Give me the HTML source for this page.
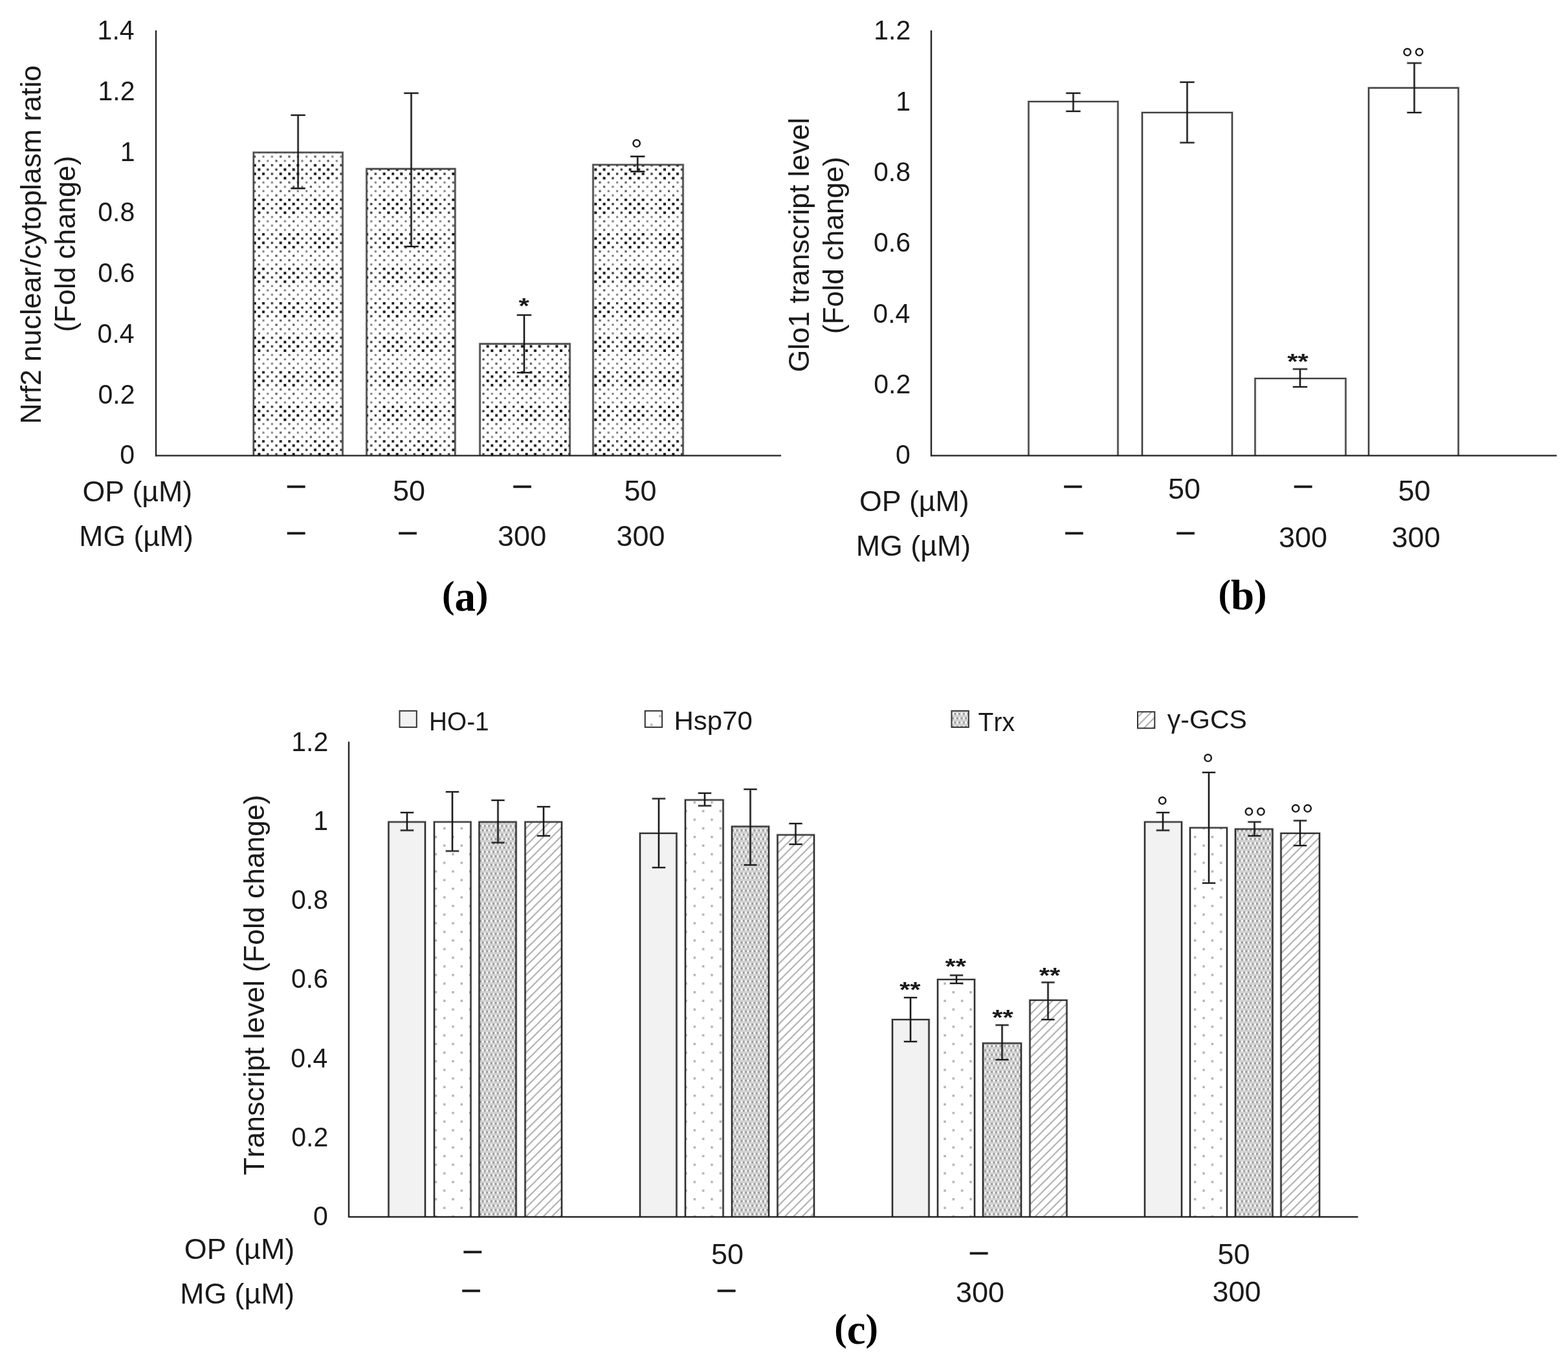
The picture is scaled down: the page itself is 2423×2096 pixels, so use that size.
<!DOCTYPE html>
<html><head><meta charset="utf-8"><title>Figure</title>
<style>
html,body{margin:0;padding:0;background:#fff;overflow:hidden;}
svg{display:block}
text{font-kerning:none;}
.s{font-family:"Liberation Sans",sans-serif;}
.d{font-family:"Liberation Sans",sans-serif;stroke:#1a1a1a;stroke-width:0.6px;}
.sb{font-family:"Liberation Sans",sans-serif;font-weight:bold;}
.b{font-family:"Liberation Serif",serif;font-weight:bold;}
</style></head><body>
<svg width="2423" height="2096" viewBox="0 0 2423 2096">
<defs>
<pattern id="pA" patternUnits="userSpaceOnUse" width="53.333" height="53.333" x="392" y="-12.933">
<rect width="53.333" height="53.333" fill="#fff"/>
<rect x="-0.25" y="-0.25" width="3.9" height="3.9" fill="#0c0c0c"/>
<rect x="13.08" y="-0.25" width="3.9" height="3.9" fill="#0c0c0c"/>
<rect x="26.67" y="0.00" width="3.4" height="3.4" fill="#3c3c3c"/>
<rect x="39.75" y="-0.25" width="3.9" height="3.9" fill="#0c0c0c"/>
<rect x="6.42" y="6.42" width="3.9" height="3.9" fill="#0c0c0c"/>
<rect x="20.00" y="6.67" width="3.4" height="3.4" fill="#3c3c3c"/>
<rect x="33.33" y="6.67" width="3.4" height="3.4" fill="#3c3c3c"/>
<rect x="46.42" y="6.42" width="3.9" height="3.9" fill="#0c0c0c"/>
<rect x="-0.25" y="13.08" width="3.9" height="3.9" fill="#0c0c0c"/>
<rect x="13.08" y="13.08" width="3.9" height="3.9" fill="#0c0c0c"/>
<rect x="26.67" y="13.33" width="3.4" height="3.4" fill="#3c3c3c"/>
<rect x="39.75" y="13.08" width="3.9" height="3.9" fill="#0c0c0c"/>
<rect x="6.42" y="19.75" width="3.9" height="3.9" fill="#0c0c0c"/>
<rect x="20.00" y="20.00" width="3.4" height="3.4" fill="#3c3c3c"/>
<rect x="33.33" y="20.00" width="3.4" height="3.4" fill="#3c3c3c"/>
<rect x="46.42" y="19.75" width="3.9" height="3.9" fill="#0c0c0c"/>
<rect x="0.10" y="26.77" width="3.2" height="3.2" fill="#555"/>
<rect x="13.53" y="26.87" width="3.0" height="3.0" fill="#777"/>
<rect x="26.87" y="26.87" width="3.0" height="3.0" fill="#777"/>
<rect x="40.10" y="26.77" width="3.2" height="3.2" fill="#555"/>
<rect x="6.77" y="33.43" width="3.2" height="3.2" fill="#555"/>
<rect x="20.20" y="33.53" width="3.0" height="3.0" fill="#777"/>
<rect x="33.43" y="33.43" width="3.2" height="3.2" fill="#555"/>
<rect x="46.87" y="33.53" width="3.0" height="3.0" fill="#777"/>
<rect x="0.10" y="40.10" width="3.2" height="3.2" fill="#555"/>
<rect x="13.53" y="40.20" width="3.0" height="3.0" fill="#777"/>
<rect x="26.87" y="40.20" width="3.0" height="3.0" fill="#777"/>
<rect x="40.10" y="40.10" width="3.2" height="3.2" fill="#555"/>
<rect x="6.77" y="46.77" width="3.2" height="3.2" fill="#555"/>
<rect x="20.20" y="46.87" width="3.0" height="3.0" fill="#777"/>
<rect x="33.43" y="46.77" width="3.2" height="3.2" fill="#555"/>
<rect x="46.87" y="46.87" width="3.0" height="3.0" fill="#777"/>
</pattern>
<pattern id="pH" patternUnits="userSpaceOnUse" width="26.667" height="26.667" x="5" y="12">
<rect width="26.667" height="26.667" fill="#fff"/>
<rect x="0" y="0" width="3.4" height="3.4" fill="#b0b0b0"/>
<rect x="13.333" y="13.333" width="3.4" height="3.4" fill="#b0b0b0"/>
</pattern>
<pattern id="pT" patternUnits="userSpaceOnUse" width="6.667" height="13.333" x="1" y="2">
<rect width="6.667" height="13.333" fill="#d2d2d2"/>
<rect x="0" y="0" width="3.2" height="3.2" fill="#fcfcfc"/>
<rect x="3.333" y="0" width="3.2" height="3.2" fill="#9a9a9a"/>
<rect x="0" y="6.667" width="3.2" height="3.2" fill="#9a9a9a"/>
<rect x="3.333" y="6.667" width="3.2" height="3.2" fill="#fcfcfc"/>
</pattern>
<pattern id="pG" patternUnits="userSpaceOnUse" width="13.333" height="13.333">
<rect width="13.333" height="13.333" fill="#fff"/>
<path d="M-3.333 3.333L3.333 -3.333M0 13.333L13.333 0M10 16.667L16.667 10" stroke="#ababab" stroke-width="2"/>
</pattern>
</defs>
<rect width="2423" height="2096" fill="#fff"/>

<g id="chartA">
<rect x="391.8" y="235.7" width="137.70" height="468.60" fill="url(#pA)"/>
<path d="M391.8 704.3V235.7H529.5V704.3" fill="none" stroke="#000" stroke-opacity="0.18" stroke-width="4.1" stroke-linejoin="miter"/>
<path d="M391.8 704.3V235.7H529.5V704.3" fill="none" stroke="#484848" stroke-width="2.3" stroke-linejoin="miter"/>
<rect x="566.5" y="261" width="136.80" height="443.30" fill="url(#pA)"/>
<path d="M566.5 704.3V261H703.3V704.3" fill="none" stroke="#000" stroke-opacity="0.18" stroke-width="4.1" stroke-linejoin="miter"/>
<path d="M566.5 704.3V261H703.3V704.3" fill="none" stroke="#484848" stroke-width="2.3" stroke-linejoin="miter"/>
<rect x="741.6" y="531.5" width="139.00" height="172.80" fill="url(#pA)"/>
<path d="M741.6 704.3V531.5H880.6V704.3" fill="none" stroke="#000" stroke-opacity="0.18" stroke-width="4.1" stroke-linejoin="miter"/>
<path d="M741.6 704.3V531.5H880.6V704.3" fill="none" stroke="#484848" stroke-width="2.3" stroke-linejoin="miter"/>
<rect x="916.5" y="254.7" width="139.00" height="449.60" fill="url(#pA)"/>
<path d="M916.5 704.3V254.7H1055.5V704.3" fill="none" stroke="#000" stroke-opacity="0.18" stroke-width="4.1" stroke-linejoin="miter"/>
<path d="M916.5 704.3V254.7H1055.5V704.3" fill="none" stroke="#484848" stroke-width="2.3" stroke-linejoin="miter"/>
<path d="M448.8 178H472.40000000000003M448.8 291.2H472.40000000000003M460.6 178V291.2" stroke="#000" stroke-opacity="0.2" stroke-width="4.0" fill="none"/>
<path d="M449.6 178H471.6M449.6 291.2H471.6M460.6 178V291.2" stroke="#1a1a1a" stroke-width="2.2" fill="none"/>
<path d="M623.7 144H647.3M623.7 381H647.3M635.5 144V381" stroke="#000" stroke-opacity="0.2" stroke-width="4.0" fill="none"/>
<path d="M624.5 144H646.5M624.5 381H646.5M635.5 144V381" stroke="#1a1a1a" stroke-width="2.2" fill="none"/>
<path d="M798.2 487H821.8M798.2 576H821.8M810 487V576" stroke="#000" stroke-opacity="0.2" stroke-width="4.0" fill="none"/>
<path d="M799.0 487H821.0M799.0 576H821.0M810 487V576" stroke="#1a1a1a" stroke-width="2.2" fill="none"/>
<path d="M973.5 241.8H997.0999999999999M973.5 265.2H997.0999999999999M985.3 241.8V265.2" stroke="#000" stroke-opacity="0.2" stroke-width="4.0" fill="none"/>
<path d="M974.3 241.8H996.3M974.3 265.2H996.3M985.3 241.8V265.2" stroke="#1a1a1a" stroke-width="2.2" fill="none"/>
<line x1="241" y1="47" x2="241" y2="705.3" stroke="#000" stroke-opacity="0.2" stroke-width="3.8"/>
<line x1="241" y1="47" x2="241" y2="705.3" stroke="#262626" stroke-width="2"/>
<line x1="240" y1="704.3" x2="1207" y2="704.3" stroke="#000" stroke-opacity="0.2" stroke-width="3.8"/>
<line x1="240" y1="704.3" x2="1207" y2="704.3" stroke="#262626" stroke-width="2"/>
<text class="s" font-size="43" fill="#1a1a1a" transform="translate(185.27,717.30) scale(0.9550,1)">0</text>
<text class="s" font-size="43" fill="#1a1a1a" transform="translate(151.48,623.57) scale(0.9550,1)">0.2</text>
<text class="s" font-size="43" fill="#1a1a1a" transform="translate(150.62,529.84) scale(0.9550,1)">0.4</text>
<text class="s" font-size="43" fill="#1a1a1a" transform="translate(151.22,436.11) scale(0.9550,1)">0.6</text>
<text class="s" font-size="43" fill="#1a1a1a" transform="translate(151.20,342.39) scale(0.9550,1)">0.8</text>
<text class="s" font-size="43" fill="#1a1a1a" transform="translate(185.67,248.66) scale(0.9550,1)">1</text>
<text class="s" font-size="43" fill="#1a1a1a" transform="translate(151.48,154.93) scale(0.9550,1)">1.2</text>
<text class="s" font-size="43" fill="#1a1a1a" transform="translate(150.62,61.20) scale(0.9550,1)">1.4</text>
<text class="s" font-size="44" fill="#1a1a1a" transform="translate(63.00,655.46) rotate(-90) scale(1.0129,1)">Nrf2 nuclear/cytoplasm ratio</text>
<text class="s" font-size="44" fill="#1a1a1a" transform="translate(115.80,513.34) rotate(-90) scale(1.0037,1)">(Fold change)</text>
<text class="s" font-size="44" fill="#1a1a1a" transform="translate(127.38,775.00) scale(1.0167,1)">OP (µM)</text>
<text class="s" font-size="44" fill="#1a1a1a" transform="translate(122.35,843.75) scale(1.0115,1)">MG (µM)</text>
<text class="d" font-size="49" fill="#1a1a1a" transform="translate(443.89,764.50) scale(1.0000,1)">–</text>
<text class="d" font-size="49" fill="#1a1a1a" transform="translate(793.39,764.50) scale(1.0000,1)">–</text>
<text class="d" font-size="49" fill="#1a1a1a" transform="translate(616.39,837.00) scale(1.0000,1)">–</text>
<text class="d" font-size="49" fill="#1a1a1a" transform="translate(443.89,837.00) scale(1.0000,1)">–</text>
<text class="s" font-size="45" fill="#1a1a1a" transform="translate(606.95,773.75) scale(1.0000,1)">50</text>
<text class="s" font-size="45" fill="#1a1a1a" transform="translate(964.55,773.75) scale(1.0000,1)">50</text>
<text class="s" font-size="45" fill="#1a1a1a" transform="translate(769.08,844.25) scale(1.0000,1)">300</text>
<text class="s" font-size="45" fill="#1a1a1a" transform="translate(952.48,844.25) scale(1.0000,1)">300</text>
<text class="sb" font-size="38" fill="#1a1a1a" transform="translate(801.43,483.79) scale(1.1000,0.8800)">*</text>
<text class="s" font-size="46" fill="#1a1a1a" transform="translate(974.61,247.92) scale(1.0000,1.0000)">°</text>
</g>
<g id="chartB">
<rect x="1589.5" y="157" width="138.00" height="547.30" fill="#fff"/>
<path d="M1589.5 704.3V157H1727.5V704.3" fill="none" stroke="#000" stroke-opacity="0.18" stroke-width="4.0" stroke-linejoin="miter"/>
<path d="M1589.5 704.3V157H1727.5V704.3" fill="none" stroke="#404040" stroke-width="2.2" stroke-linejoin="miter"/>
<rect x="1765" y="174" width="139.00" height="530.30" fill="#fff"/>
<path d="M1765 704.3V174H1904V704.3" fill="none" stroke="#000" stroke-opacity="0.18" stroke-width="4.0" stroke-linejoin="miter"/>
<path d="M1765 704.3V174H1904V704.3" fill="none" stroke="#404040" stroke-width="2.2" stroke-linejoin="miter"/>
<rect x="1939.5" y="585" width="140.00" height="119.30" fill="#fff"/>
<path d="M1939.5 704.3V585H2079.5V704.3" fill="none" stroke="#000" stroke-opacity="0.18" stroke-width="4.0" stroke-linejoin="miter"/>
<path d="M1939.5 704.3V585H2079.5V704.3" fill="none" stroke="#404040" stroke-width="2.2" stroke-linejoin="miter"/>
<rect x="2115" y="135.8" width="138.60" height="568.50" fill="#fff"/>
<path d="M2115 704.3V135.8H2253.6V704.3" fill="none" stroke="#000" stroke-opacity="0.18" stroke-width="4.0" stroke-linejoin="miter"/>
<path d="M2115 704.3V135.8H2253.6V704.3" fill="none" stroke="#404040" stroke-width="2.2" stroke-linejoin="miter"/>
<path d="M1646.7 144H1670.3M1646.7 172H1670.3M1658.5 144V172" stroke="#000" stroke-opacity="0.2" stroke-width="4.0" fill="none"/>
<path d="M1647.5 144H1669.5M1647.5 172H1669.5M1658.5 144V172" stroke="#1a1a1a" stroke-width="2.2" fill="none"/>
<path d="M1822.7 127H1846.3M1822.7 220.5H1846.3M1834.5 127V220.5" stroke="#000" stroke-opacity="0.2" stroke-width="4.0" fill="none"/>
<path d="M1823.5 127H1845.5M1823.5 220.5H1845.5M1834.5 127V220.5" stroke="#1a1a1a" stroke-width="2.2" fill="none"/>
<path d="M1997.2 570.5H2020.8M1997.2 598H2020.8M2009 570.5V598" stroke="#000" stroke-opacity="0.2" stroke-width="4.0" fill="none"/>
<path d="M1998.0 570.5H2020.0M1998.0 598H2020.0M2009 570.5V598" stroke="#1a1a1a" stroke-width="2.2" fill="none"/>
<path d="M2173.7 97.5H2197.3M2173.7 174H2197.3M2185.5 97.5V174" stroke="#000" stroke-opacity="0.2" stroke-width="4.0" fill="none"/>
<path d="M2174.5 97.5H2196.5M2174.5 174H2196.5M2185.5 97.5V174" stroke="#1a1a1a" stroke-width="2.2" fill="none"/>
<line x1="1439" y1="47" x2="1439" y2="705.3" stroke="#000" stroke-opacity="0.2" stroke-width="3.8"/>
<line x1="1439" y1="47" x2="1439" y2="705.3" stroke="#262626" stroke-width="2"/>
<line x1="1438" y1="704.3" x2="2405.5" y2="704.3" stroke="#000" stroke-opacity="0.2" stroke-width="3.8"/>
<line x1="1438" y1="704.3" x2="2405.5" y2="704.3" stroke="#262626" stroke-width="2"/>
<text class="s" font-size="43" fill="#1a1a1a" transform="translate(1383.97,717.30) scale(0.9550,1)">0</text>
<text class="s" font-size="43" fill="#1a1a1a" transform="translate(1350.18,607.95) scale(0.9550,1)">0.2</text>
<text class="s" font-size="43" fill="#1a1a1a" transform="translate(1349.32,498.60) scale(0.9550,1)">0.4</text>
<text class="s" font-size="43" fill="#1a1a1a" transform="translate(1349.92,389.25) scale(0.9550,1)">0.6</text>
<text class="s" font-size="43" fill="#1a1a1a" transform="translate(1349.90,279.90) scale(0.9550,1)">0.8</text>
<text class="s" font-size="43" fill="#1a1a1a" transform="translate(1384.37,170.55) scale(0.9550,1)">1</text>
<text class="s" font-size="43" fill="#1a1a1a" transform="translate(1350.18,61.20) scale(0.9550,1)">1.2</text>
<text class="s" font-size="44" fill="#1a1a1a" transform="translate(1250.20,575.34) rotate(-90) scale(1.0123,1)">Glo1 transcript level</text>
<text class="s" font-size="44" fill="#1a1a1a" transform="translate(1303.10,516.36) rotate(-90) scale(1.0101,1)">(Fold change)</text>
<text class="s" font-size="44" fill="#1a1a1a" transform="translate(1327.88,790.00) scale(1.0167,1)">OP (µM)</text>
<text class="s" font-size="44" fill="#1a1a1a" transform="translate(1322.83,858.75) scale(1.0174,1)">MG (µM)</text>
<text class="d" font-size="49" fill="#1a1a1a" transform="translate(1644.39,764.50) scale(1.0000,1)">–</text>
<text class="d" font-size="49" fill="#1a1a1a" transform="translate(1999.89,764.50) scale(1.0000,1)">–</text>
<text class="d" font-size="49" fill="#1a1a1a" transform="translate(1646.14,837.00) scale(1.0000,1)">–</text>
<text class="d" font-size="49" fill="#1a1a1a" transform="translate(1818.39,837.00) scale(1.0000,1)">–</text>
<text class="s" font-size="45" fill="#1a1a1a" transform="translate(1804.95,771.00) scale(1.0000,1)">50</text>
<text class="s" font-size="45" fill="#1a1a1a" transform="translate(2160.45,774.00) scale(1.0000,1)">50</text>
<text class="s" font-size="45" fill="#1a1a1a" transform="translate(1975.88,846.25) scale(1.0000,1)">300</text>
<text class="s" font-size="45" fill="#1a1a1a" transform="translate(2150.58,846.25) scale(1.0000,1)">300</text>
<text class="sb" font-size="38" fill="#1a1a1a" transform="translate(1989.29,569.59) scale(1.1000,0.8800)">**</text>
<text class="s" font-size="46" fill="#1a1a1a" transform="translate(2165.52,106.92) scale(1.0000,1.0000)">°°</text>
</g>
<g id="chartC">
<rect x="600.5" y="1270.5" width="56.50" height="610.50" fill="#f2f2f2"/>
<path d="M600.5 1881V1270.5H657V1881" fill="none" stroke="#000" stroke-opacity="0.18" stroke-width="4.0" stroke-linejoin="miter"/>
<path d="M600.5 1881V1270.5H657V1881" fill="none" stroke="#2e2e2e" stroke-width="2.2" stroke-linejoin="miter"/>
<rect x="671" y="1270.5" width="56.50" height="610.50" fill="url(#pH)"/>
<path d="M671 1881V1270.5H727.5V1881" fill="none" stroke="#000" stroke-opacity="0.18" stroke-width="4.0" stroke-linejoin="miter"/>
<path d="M671 1881V1270.5H727.5V1881" fill="none" stroke="#2e2e2e" stroke-width="2.2" stroke-linejoin="miter"/>
<rect x="740.5" y="1270.5" width="57.00" height="610.50" fill="url(#pT)"/>
<path d="M740.5 1881V1270.5H797.5V1881" fill="none" stroke="#000" stroke-opacity="0.18" stroke-width="4.0" stroke-linejoin="miter"/>
<path d="M740.5 1881V1270.5H797.5V1881" fill="none" stroke="#2e2e2e" stroke-width="2.2" stroke-linejoin="miter"/>
<rect x="811.5" y="1270.5" width="56.50" height="610.50" fill="url(#pG)"/>
<path d="M811.5 1881V1270.5H868V1881" fill="none" stroke="#000" stroke-opacity="0.18" stroke-width="4.0" stroke-linejoin="miter"/>
<path d="M811.5 1881V1270.5H868V1881" fill="none" stroke="#2e2e2e" stroke-width="2.2" stroke-linejoin="miter"/>
<rect x="989" y="1288" width="56.50" height="593.00" fill="#f2f2f2"/>
<path d="M989 1881V1288H1045.5V1881" fill="none" stroke="#000" stroke-opacity="0.18" stroke-width="4.0" stroke-linejoin="miter"/>
<path d="M989 1881V1288H1045.5V1881" fill="none" stroke="#2e2e2e" stroke-width="2.2" stroke-linejoin="miter"/>
<rect x="1059" y="1236.5" width="58.50" height="644.50" fill="url(#pH)"/>
<path d="M1059 1881V1236.5H1117.5V1881" fill="none" stroke="#000" stroke-opacity="0.18" stroke-width="4.0" stroke-linejoin="miter"/>
<path d="M1059 1881V1236.5H1117.5V1881" fill="none" stroke="#2e2e2e" stroke-width="2.2" stroke-linejoin="miter"/>
<rect x="1131" y="1277.5" width="57.00" height="603.50" fill="url(#pT)"/>
<path d="M1131 1881V1277.5H1188V1881" fill="none" stroke="#000" stroke-opacity="0.18" stroke-width="4.0" stroke-linejoin="miter"/>
<path d="M1131 1881V1277.5H1188V1881" fill="none" stroke="#2e2e2e" stroke-width="2.2" stroke-linejoin="miter"/>
<rect x="1201.5" y="1290.5" width="56.50" height="590.50" fill="url(#pG)"/>
<path d="M1201.5 1881V1290.5H1258V1881" fill="none" stroke="#000" stroke-opacity="0.18" stroke-width="4.0" stroke-linejoin="miter"/>
<path d="M1201.5 1881V1290.5H1258V1881" fill="none" stroke="#2e2e2e" stroke-width="2.2" stroke-linejoin="miter"/>
<rect x="1379" y="1576" width="56.50" height="305.00" fill="#f2f2f2"/>
<path d="M1379 1881V1576H1435.5V1881" fill="none" stroke="#000" stroke-opacity="0.18" stroke-width="4.0" stroke-linejoin="miter"/>
<path d="M1379 1881V1576H1435.5V1881" fill="none" stroke="#2e2e2e" stroke-width="2.2" stroke-linejoin="miter"/>
<rect x="1449" y="1514" width="57.00" height="367.00" fill="url(#pH)"/>
<path d="M1449 1881V1514H1506V1881" fill="none" stroke="#000" stroke-opacity="0.18" stroke-width="4.0" stroke-linejoin="miter"/>
<path d="M1449 1881V1514H1506V1881" fill="none" stroke="#2e2e2e" stroke-width="2.2" stroke-linejoin="miter"/>
<rect x="1519" y="1612.5" width="59.00" height="268.50" fill="url(#pT)"/>
<path d="M1519 1881V1612.5H1578V1881" fill="none" stroke="#000" stroke-opacity="0.18" stroke-width="4.0" stroke-linejoin="miter"/>
<path d="M1519 1881V1612.5H1578V1881" fill="none" stroke="#2e2e2e" stroke-width="2.2" stroke-linejoin="miter"/>
<rect x="1591.5" y="1546" width="57.00" height="335.00" fill="url(#pG)"/>
<path d="M1591.5 1881V1546H1648.5V1881" fill="none" stroke="#000" stroke-opacity="0.18" stroke-width="4.0" stroke-linejoin="miter"/>
<path d="M1591.5 1881V1546H1648.5V1881" fill="none" stroke="#2e2e2e" stroke-width="2.2" stroke-linejoin="miter"/>
<rect x="1769" y="1270.5" width="57.00" height="610.50" fill="#f2f2f2"/>
<path d="M1769 1881V1270.5H1826V1881" fill="none" stroke="#000" stroke-opacity="0.18" stroke-width="4.0" stroke-linejoin="miter"/>
<path d="M1769 1881V1270.5H1826V1881" fill="none" stroke="#2e2e2e" stroke-width="2.2" stroke-linejoin="miter"/>
<rect x="1839" y="1279.5" width="57.00" height="601.50" fill="url(#pH)"/>
<path d="M1839 1881V1279.5H1896V1881" fill="none" stroke="#000" stroke-opacity="0.18" stroke-width="4.0" stroke-linejoin="miter"/>
<path d="M1839 1881V1279.5H1896V1881" fill="none" stroke="#2e2e2e" stroke-width="2.2" stroke-linejoin="miter"/>
<rect x="1909" y="1281.5" width="57.50" height="599.50" fill="url(#pT)"/>
<path d="M1909 1881V1281.5H1966.5V1881" fill="none" stroke="#000" stroke-opacity="0.18" stroke-width="4.0" stroke-linejoin="miter"/>
<path d="M1909 1881V1281.5H1966.5V1881" fill="none" stroke="#2e2e2e" stroke-width="2.2" stroke-linejoin="miter"/>
<rect x="1979.5" y="1288" width="59.50" height="593.00" fill="url(#pG)"/>
<path d="M1979.5 1881V1288H2039V1881" fill="none" stroke="#000" stroke-opacity="0.18" stroke-width="4.0" stroke-linejoin="miter"/>
<path d="M1979.5 1881V1288H2039V1881" fill="none" stroke="#2e2e2e" stroke-width="2.2" stroke-linejoin="miter"/>
<path d="M618.2 1256H639.8M618.2 1283.5H639.8M629 1256V1283.5" stroke="#000" stroke-opacity="0.2" stroke-width="4.0" fill="none"/>
<path d="M619.0 1256H639.0M619.0 1283.5H639.0M629 1256V1283.5" stroke="#1a1a1a" stroke-width="2.2" fill="none"/>
<path d="M688.2 1224H709.8M688.2 1315.5H709.8M699 1224V1315.5" stroke="#000" stroke-opacity="0.2" stroke-width="4.0" fill="none"/>
<path d="M689.0 1224H709.0M689.0 1315.5H709.0M699 1224V1315.5" stroke="#1a1a1a" stroke-width="2.2" fill="none"/>
<path d="M758.7 1237H780.3M758.7 1302.5H780.3M769.5 1237V1302.5" stroke="#000" stroke-opacity="0.2" stroke-width="4.0" fill="none"/>
<path d="M759.5 1237H779.5M759.5 1302.5H779.5M769.5 1237V1302.5" stroke="#1a1a1a" stroke-width="2.2" fill="none"/>
<path d="M829.2 1247H850.8M829.2 1292H850.8M840 1247V1292" stroke="#000" stroke-opacity="0.2" stroke-width="4.0" fill="none"/>
<path d="M830.0 1247H850.0M830.0 1292H850.0M840 1247V1292" stroke="#1a1a1a" stroke-width="2.2" fill="none"/>
<path d="M1007.2 1234.5H1028.8M1007.2 1341H1028.8M1018 1234.5V1341" stroke="#000" stroke-opacity="0.2" stroke-width="4.0" fill="none"/>
<path d="M1008.0 1234.5H1028.0M1008.0 1341H1028.0M1018 1234.5V1341" stroke="#1a1a1a" stroke-width="2.2" fill="none"/>
<path d="M1078.2 1226H1099.8M1078.2 1245.5H1099.8M1089 1226V1245.5" stroke="#000" stroke-opacity="0.2" stroke-width="4.0" fill="none"/>
<path d="M1079.0 1226H1099.0M1079.0 1245.5H1099.0M1089 1226V1245.5" stroke="#1a1a1a" stroke-width="2.2" fill="none"/>
<path d="M1148.7 1220H1170.3M1148.7 1337H1170.3M1159.5 1220V1337" stroke="#000" stroke-opacity="0.2" stroke-width="4.0" fill="none"/>
<path d="M1149.5 1220H1169.5M1149.5 1337H1169.5M1159.5 1220V1337" stroke="#1a1a1a" stroke-width="2.2" fill="none"/>
<path d="M1218.7 1273H1240.3M1218.7 1305H1240.3M1229.5 1273V1305" stroke="#000" stroke-opacity="0.2" stroke-width="4.0" fill="none"/>
<path d="M1219.5 1273H1239.5M1219.5 1305H1239.5M1229.5 1273V1305" stroke="#1a1a1a" stroke-width="2.2" fill="none"/>
<path d="M1396.2 1542H1417.8M1396.2 1610H1417.8M1407 1542V1610" stroke="#000" stroke-opacity="0.2" stroke-width="4.0" fill="none"/>
<path d="M1397.0 1542H1417.0M1397.0 1610H1417.0M1407 1542V1610" stroke="#1a1a1a" stroke-width="2.2" fill="none"/>
<path d="M1467.2 1507.5H1488.8M1467.2 1520H1488.8M1478 1507.5V1520" stroke="#000" stroke-opacity="0.2" stroke-width="4.0" fill="none"/>
<path d="M1468.0 1507.5H1488.0M1468.0 1520H1488.0M1478 1507.5V1520" stroke="#1a1a1a" stroke-width="2.2" fill="none"/>
<path d="M1537.7 1584.5H1559.3M1537.7 1638H1559.3M1548.5 1584.5V1638" stroke="#000" stroke-opacity="0.2" stroke-width="4.0" fill="none"/>
<path d="M1538.5 1584.5H1558.5M1538.5 1638H1558.5M1548.5 1584.5V1638" stroke="#1a1a1a" stroke-width="2.2" fill="none"/>
<path d="M1608.7 1518.5H1630.3M1608.7 1576H1630.3M1619.5 1518.5V1576" stroke="#000" stroke-opacity="0.2" stroke-width="4.0" fill="none"/>
<path d="M1609.5 1518.5H1629.5M1609.5 1576H1629.5M1619.5 1518.5V1576" stroke="#1a1a1a" stroke-width="2.2" fill="none"/>
<path d="M1786.2 1256H1807.8M1786.2 1283.5H1807.8M1797 1256V1283.5" stroke="#000" stroke-opacity="0.2" stroke-width="4.0" fill="none"/>
<path d="M1787.0 1256H1807.0M1787.0 1283.5H1807.0M1797 1256V1283.5" stroke="#1a1a1a" stroke-width="2.2" fill="none"/>
<path d="M1857.2 1194H1878.8M1857.2 1365H1878.8M1868 1194V1365" stroke="#000" stroke-opacity="0.2" stroke-width="4.0" fill="none"/>
<path d="M1858.0 1194H1878.0M1858.0 1365H1878.0M1868 1194V1365" stroke="#1a1a1a" stroke-width="2.2" fill="none"/>
<path d="M1927.7 1270.5H1949.3M1927.7 1292H1949.3M1938.5 1270.5V1292" stroke="#000" stroke-opacity="0.2" stroke-width="4.0" fill="none"/>
<path d="M1928.5 1270.5H1948.5M1928.5 1292H1948.5M1938.5 1270.5V1292" stroke="#1a1a1a" stroke-width="2.2" fill="none"/>
<path d="M1998.2 1268.5H2019.8M1998.2 1307H2019.8M2009 1268.5V1307" stroke="#000" stroke-opacity="0.2" stroke-width="4.0" fill="none"/>
<path d="M1999.0 1268.5H2019.0M1999.0 1307H2019.0M2009 1268.5V1307" stroke="#1a1a1a" stroke-width="2.2" fill="none"/>
<line x1="539" y1="1146.5" x2="539" y2="1882" stroke="#000" stroke-opacity="0.2" stroke-width="3.8"/>
<line x1="539" y1="1146.5" x2="539" y2="1882" stroke="#262626" stroke-width="2"/>
<line x1="538" y1="1881" x2="2098.5" y2="1881" stroke="#000" stroke-opacity="0.2" stroke-width="3.8"/>
<line x1="538" y1="1881" x2="2098.5" y2="1881" stroke="#262626" stroke-width="2"/>
<text class="s" font-size="43" fill="#1a1a1a" transform="translate(483.97,1894.00) scale(0.9550,1)">0</text>
<text class="s" font-size="43" fill="#1a1a1a" transform="translate(450.18,1771.75) scale(0.9550,1)">0.2</text>
<text class="s" font-size="43" fill="#1a1a1a" transform="translate(449.32,1649.50) scale(0.9550,1)">0.4</text>
<text class="s" font-size="43" fill="#1a1a1a" transform="translate(449.92,1527.25) scale(0.9550,1)">0.6</text>
<text class="s" font-size="43" fill="#1a1a1a" transform="translate(449.90,1405.00) scale(0.9550,1)">0.8</text>
<text class="s" font-size="43" fill="#1a1a1a" transform="translate(484.37,1282.75) scale(0.9550,1)">1</text>
<text class="s" font-size="43" fill="#1a1a1a" transform="translate(450.18,1160.50) scale(0.9550,1)">1.2</text>
<text class="s" font-size="44" fill="#1a1a1a" transform="translate(407.90,1816.40) rotate(-90) scale(1.0106,1)">Transcript level (Fold change)</text>
<text class="s" font-size="44" fill="#1a1a1a" transform="translate(284.87,1945.75) scale(1.0198,1)">OP (µM)</text>
<text class="s" font-size="44" fill="#1a1a1a" transform="translate(278.34,2014.50) scale(1.0144,1)">MG (µM)</text>
<text class="d" font-size="49" fill="#1a1a1a" transform="translate(716.64,1948.00) scale(1.0000,1)">–</text>
<text class="d" font-size="49" fill="#1a1a1a" transform="translate(1498.89,1950.00) scale(1.0000,1)">–</text>
<text class="d" font-size="49" fill="#1a1a1a" transform="translate(714.39,2008.00) scale(1.0000,1)">–</text>
<text class="d" font-size="49" fill="#1a1a1a" transform="translate(1108.89,2008.00) scale(1.0000,1)">–</text>
<text class="s" font-size="45" fill="#1a1a1a" transform="translate(1098.95,1954.00) scale(1.0000,1)">50</text>
<text class="s" font-size="45" fill="#1a1a1a" transform="translate(1881.45,1954.00) scale(1.0000,1)">50</text>
<text class="s" font-size="45" fill="#1a1a1a" transform="translate(1476.98,2013.00) scale(1.0000,1)">300</text>
<text class="s" font-size="45" fill="#1a1a1a" transform="translate(1873.48,2011.50) scale(1.0000,1)">300</text>
<text class="sb" font-size="38" fill="#1a1a1a" transform="translate(1389.89,1540.89) scale(1.1000,0.8800)">**</text>
<text class="sb" font-size="38" fill="#1a1a1a" transform="translate(1460.39,1505.09) scale(1.1000,0.8800)">**</text>
<text class="sb" font-size="38" fill="#1a1a1a" transform="translate(1533.19,1583.69) scale(1.1000,0.8800)">**</text>
<text class="sb" font-size="38" fill="#1a1a1a" transform="translate(1605.69,1519.49) scale(1.1000,0.8800)">**</text>
<text class="s" font-size="46" fill="#1a1a1a" transform="translate(1787.01,1263.92) scale(1.0000,1.0000)">°</text>
<text class="s" font-size="46" fill="#1a1a1a" transform="translate(1857.51,1197.82) scale(1.0000,1.0000)">°</text>
<text class="s" font-size="46" fill="#1a1a1a" transform="translate(1920.82,1280.82) scale(1.0000,1.0000)">°°</text>
<text class="s" font-size="46" fill="#1a1a1a" transform="translate(1993.02,1276.22) scale(1.0000,1.0000)">°°</text>
<rect x="617.5" y="1098.8" width="26.3" height="25.3" fill="#f2f2f2" stroke="#333" stroke-width="2"/>
<text class="s" font-size="41.5" fill="#1a1a1a" transform="translate(663.07,1129.25) scale(0.9336,1)">HO-1</text>
<rect x="996.8" y="1098.8" width="26.3" height="25.3" fill="url(#pH)" stroke="#333" stroke-width="2"/>
<text class="s" font-size="41.5" fill="#1a1a1a" transform="translate(1041.56,1127.50) scale(1.0114,1)">Hsp70</text>
<rect x="1470.5" y="1098.8" width="26.3" height="25.3" fill="url(#pT)" stroke="#333" stroke-width="2"/>
<text class="s" font-size="41.5" fill="#1a1a1a" transform="translate(1511.62,1129.50) scale(0.9395,1)">Trx</text>
<rect x="1758" y="1100.3" width="26.3" height="25.3" fill="url(#pG)" stroke="#333" stroke-width="2"/>
<text class="s" font-size="41.5" fill="#1a1a1a" transform="translate(1803.86,1126.20) scale(0.9881,1)">γ-GCS</text>
</g>
<text class="b" x="683.02" y="944.40" font-size="65" fill="#000"><tspan font-size="58.5" dy="-5.4">(</tspan><tspan dy="5.4">a</tspan><tspan font-size="58.5" dy="-5.4">)</tspan></text>
<text class="b" x="1882.45" y="942.00" font-size="65" fill="#000"><tspan font-size="58.5" dy="-5.4">(</tspan><tspan dy="5.4">b</tspan><tspan font-size="58.5" dy="-5.4">)</tspan></text>
<text class="b" x="1289.19" y="2077.00" font-size="65" fill="#000"><tspan font-size="58.5" dy="-5.4">(</tspan><tspan dy="5.4">c</tspan><tspan font-size="58.5" dy="-5.4">)</tspan></text>
</svg></body></html>
